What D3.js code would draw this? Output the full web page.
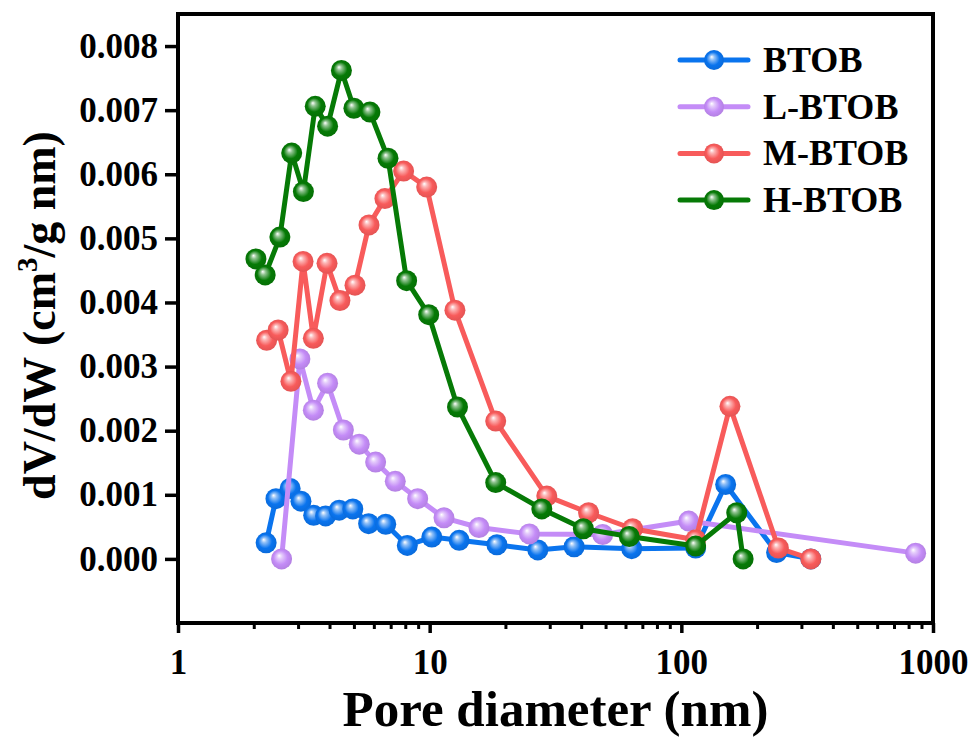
<!DOCTYPE html>
<html>
<head>
<meta charset="utf-8">
<script src="https://cdn.jsdelivr.net/npm/d3@7"></script>
<style>
  body { margin: 0; background: #fff; }
  svg text { font-family: "Liberation Serif", "Times New Roman", serif; font-weight: bold; }
</style>
</head>
<body>
<div id="chart"></div>
<script>
// pore size distribution
const seriesNames = ['BTOB', 'L-BTOB', 'M-BTOB', 'H-BTOB'];
const seriesColors = ['#0a74ee', '#c48cf7', '#f85b5b', '#067a06'];

const btobX = [2.24, 2.45, 2.79, 3.08, 3.46, 3.86, 4.37, 4.95, 5.72, 6.69, 8.15, 10.2, 13.1, 18.5, 26.9, 37.5, 63.5, 114, 150, 239, 327];
const btobY = [0.00025, 0.00094, 0.00110, 0.00090, 0.00068, 0.00067, 0.00076, 0.00078, 0.00055, 0.00054, 0.00021, 0.00034, 0.00029, 0.00022, 0.00014, 0.00019, 0.00016, 0.00017, 0.00116, 0.00010, 0.0];

const lbtobX = [2.58, 3.05, 3.45, 3.93, 4.54, 5.25, 6.10, 7.30, 8.96, 11.4, 15.7, 24.9, 48.7, 107, 853];
const lbtobY = [0.0, 0.00312, 0.00232, 0.00274, 0.00201, 0.00179, 0.00151, 0.00121, 0.00094, 0.00064, 0.00049, 0.00039, 0.00038, 0.00059, 0.00009];

const mbtobX = [2.25, 2.50, 2.81, 3.14, 3.45, 3.91, 4.40, 5.05, 5.74, 6.64, 7.88, 9.73, 12.6, 18.3, 29.2, 42.8, 64.0, 114, 156, 243, 327];
const mbtobY = [0.00341, 0.00357, 0.00277, 0.00464, 0.00344, 0.00461, 0.00403, 0.00427, 0.00521, 0.00562, 0.00605, 0.00580, 0.00388, 0.00215, 0.00098, 0.00072, 0.00047, 0.00030, 0.00238, 0.00017, 0.0];

const hbtobX = [2.04, 2.22, 2.54, 2.83, 3.15, 3.51, 3.93, 4.46, 5.00, 5.79, 6.83, 8.10, 9.91, 12.9, 18.3, 27.9, 40.8, 62.1, 114, 166, 176];
const hbtobY = [0.00468, 0.00443, 0.00502, 0.00633, 0.00573, 0.00706, 0.00675, 0.00762, 0.00703, 0.00697, 0.00625, 0.00434, 0.00381, 0.00237, 0.00119, 0.00078, 0.00047, 0.00035, 0.00020, 0.00072, 0.0];

const xTicks = [1, 10, 100, 1000];
const yTicks = [0, 0.001, 0.002, 0.003, 0.004, 0.005, 0.006, 0.007, 0.008];

const series = [
  { name: seriesNames[0], color: seriesColors[0], xs: btobX, ys: btobY },
  { name: seriesNames[1], color: seriesColors[1], xs: lbtobX, ys: lbtobY },
  { name: seriesNames[2], color: seriesColors[2], xs: mbtobX, ys: mbtobY },
  { name: seriesNames[3], color: seriesColors[3], xs: hbtobX, ys: hbtobY }
];

const W = 975, H = 739;
const margin = { top: 14, right: 42, bottom: 116, left: 178 };
const width = W - margin.left - margin.right;
const height = H - margin.top - margin.bottom;

const svg = d3.select('#chart')
  .append('svg')
  .attr('width', W)
  .attr('height', H);

// sphere-like marker shading
const defs = svg.append('defs');
series.forEach((s, i) => {
  const g = defs.append('radialGradient')
    .attr('id', 'ball' + i)
    .attr('cx', '0.5').attr('cy', '0.5').attr('r', '0.55')
    .attr('fx', '0.38').attr('fy', '0.34');
  g.append('stop').attr('offset', '0%').attr('stop-color', '#fff');
  g.append('stop').attr('offset', '22%').attr('stop-color', d3.interpolateRgb(s.color, '#fff')(0.55));
  g.append('stop').attr('offset', '60%').attr('stop-color', s.color);
  g.append('stop').attr('offset', '100%').attr('stop-color', d3.color(s.color).darker(0.3));
});

const plot = svg.append('g')
  .attr('transform', `translate(${margin.left},${margin.top})`);

const x = d3.scaleLog().domain([1, 1000]).range([0, width]);
const y = d3.scaleLinear().domain([-0.001, 0.0085]).range([height, 0]);

// minor ticks on log axis
const minor = [];
[1, 10, 100].forEach(d => { for (let k = 2; k <= 9; k++) minor.push(d * k); });

plot.append('g')
  .attr('transform', `translate(0,${height})`)
  .call(d3.axisBottom(x).tickValues(minor).tickSize(6).tickFormat(''))
  .call(g => g.select('.domain').remove())
  .call(g => g.selectAll('line').attr('stroke', '#000').attr('stroke-width', 3));

plot.append('g')
  .attr('transform', `translate(0,${height})`)
  .call(d3.axisBottom(x).tickValues(xTicks).tickSize(10).tickPadding(16).tickFormat(d3.format('d')))
  .call(g => g.select('.domain').remove())
  .call(g => g.selectAll('line').attr('stroke', '#000').attr('stroke-width', 3.5))
  .call(g => g.selectAll('text').attr('fill', '#000').style('font-size', '35px'));

plot.append('g')
  .call(d3.axisLeft(y).tickValues(yTicks).tickSize(13).tickPadding(7).tickFormat(d3.format('.3f')))
  .call(g => g.select('.domain').remove())
  .call(g => g.selectAll('line').attr('stroke', '#000').attr('stroke-width', 3.5))
  .call(g => g.selectAll('text').attr('fill', '#000').style('font-size', '35px'));

plot.append('rect')
  .attr('width', width)
  .attr('height', height)
  .attr('fill', 'none')
  .attr('stroke', '#000')
  .attr('stroke-width', 4);

const line = d3.line()
  .x(d => x(d[0]))
  .y(d => y(d[1]));

series.forEach((s, i) => {
  const pts = s.xs.map((v, j) => [v, s.ys[j]]);
  plot.append('path')
    .datum(pts)
    .attr('d', line)
    .attr('fill', 'none')
    .attr('stroke', s.color)
    .attr('stroke-width', 5)
    .attr('stroke-linejoin', 'round');

  plot.selectAll('.pt' + i)
    .data(pts)
    .enter().append('circle')
    .attr('cx', d => x(d[0]))
    .attr('cy', d => y(d[1]))
    .attr('r', 10.5)
    .attr('fill', `url(#ball${i})`);
});

// legend
const legend = svg.append('g').attr('transform', 'translate(680,60)');
series.forEach((s, i) => {
  const row = legend.append('g').attr('transform', `translate(0,${i * 46.7})`);
  row.append('line')
    .attr('x1', 0).attr('x2', 68)
    .attr('stroke', s.color)
    .attr('stroke-width', 5)
    .attr('stroke-linecap', 'round');
  row.append('circle')
    .attr('cx', 34).attr('r', 10)
    .attr('fill', `url(#ball${i})`);
  row.append('text')
    .attr('x', 83)
    .attr('y', 12)
    .style('font-size', '36px')
    .text(s.name);
});

// axis titles
svg.append('text')
  .attr('x', margin.left + width / 2)
  .attr('y', 726)
  .attr('text-anchor', 'middle')
  .style('font-size', '51px')
  .text('Pore diameter (nm)');

const yl = svg.append('text')
  .attr('transform', `translate(55,${margin.top + height / 2 - 3}) rotate(-90)`)
  .attr('text-anchor', 'middle')
  .style('font-size', '46px');
yl.append('tspan').text('dV/dW (cm');
yl.append('tspan').attr('dy', -18).style('font-size', '29px').text('3');
yl.append('tspan').attr('dy', 18).text('/g nm)');
</script>
</body>
</html>
